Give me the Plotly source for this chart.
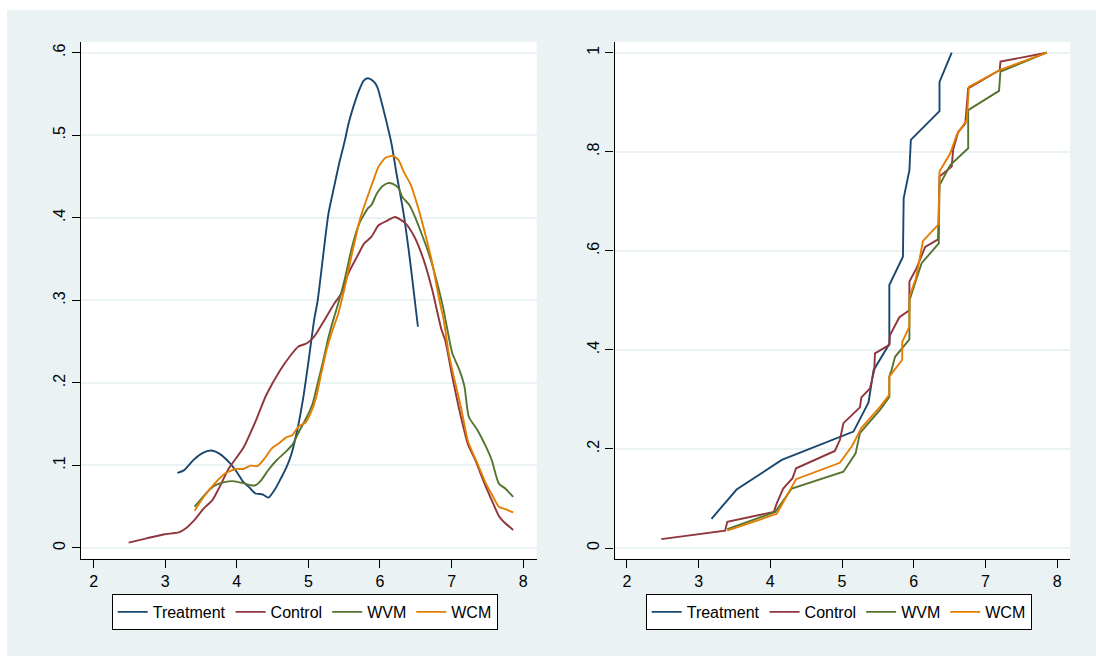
import plotly.graph_objects as go

# ---------------- data: kernel densities (left panel) ----------------
treat_den_x = [3.17, 3.26, 3.40, 3.52, 3.64, 3.76, 3.89, 4.00, 4.09, 4.18, 4.26, 4.36, 4.44, 4.54, 4.62,
               4.69, 4.76, 4.85, 4.93, 5.00, 5.08, 5.13, 5.21, 5.28, 5.36, 5.43, 5.51, 5.56, 5.63, 5.71,
               5.77, 5.83, 5.90, 5.96, 6.06, 6.16, 6.23, 6.33, 6.43, 6.53]
treat_den_y = [0.091, 0.094, 0.107, 0.115, 0.118, 0.114, 0.104, 0.092, 0.080, 0.073, 0.066, 0.065, 0.061, 0.072, 0.085,
               0.097, 0.113, 0.145, 0.183, 0.225, 0.276, 0.300, 0.357, 0.405, 0.438, 0.466, 0.494, 0.514, 0.535, 0.555,
               0.566, 0.569, 0.566, 0.559, 0.527, 0.490, 0.454, 0.405, 0.341, 0.268]

ctrl_den_x = [2.49, 2.74, 2.99, 3.19, 3.29, 3.41, 3.54, 3.66, 3.76, 3.89, 4.09, 4.26, 4.41, 4.61, 4.74,
              4.86, 4.98, 5.08, 5.21, 5.36, 5.46, 5.56, 5.68, 5.78, 5.88, 5.98, 6.11, 6.21, 6.36, 6.48,
              6.61, 6.73, 6.86, 6.91, 7.01, 7.13, 7.23, 7.33, 7.46, 7.56, 7.66, 7.75, 7.86]
ctrl_den_y = [0.0065, 0.0117, 0.0166, 0.019, 0.024, 0.034, 0.048, 0.058, 0.074, 0.0965, 0.121, 0.153, 0.185, 0.216, 0.232,
              0.244, 0.248, 0.256, 0.274, 0.296, 0.3085, 0.333, 0.353, 0.369, 0.377, 0.391, 0.397, 0.401, 0.393, 0.377,
              0.349, 0.3125, 0.264, 0.252, 0.2075, 0.159, 0.125, 0.1066, 0.078, 0.058, 0.0388, 0.030, 0.0218]

wvm_den_x = [3.41, 3.59, 3.69, 3.84, 3.94, 4.09, 4.19, 4.26, 4.34, 4.44, 4.56, 4.69, 4.78, 4.88, 4.98,
             5.06, 5.13, 5.21, 5.28, 5.36, 5.43, 5.51, 5.61, 5.71, 5.83, 5.88, 5.96, 6.03, 6.11, 6.18,
             6.26, 6.31, 6.41, 6.48, 6.58, 6.68, 6.75, 6.88, 6.92, 7.01, 7.11, 7.18, 7.24, 7.36, 7.48,
             7.56, 7.66, 7.75, 7.86]
wvm_den_y = [0.050, 0.068, 0.0755, 0.080, 0.081, 0.0785, 0.076, 0.076, 0.082, 0.0945, 0.1066, 0.117, 0.1255, 0.143, 0.159,
             0.175, 0.1995, 0.228, 0.255, 0.280, 0.300, 0.3265, 0.365, 0.393, 0.4115, 0.4155, 0.430, 0.438, 0.442, 0.441,
             0.436, 0.4255, 0.4155, 0.403, 0.381, 0.357, 0.337, 0.292, 0.274, 0.236, 0.2155, 0.1955, 0.159, 0.143, 0.1227,
             0.1066, 0.078, 0.072, 0.062]

wcm_den_x = [3.41, 3.54, 3.69, 3.84, 3.99, 4.09, 4.19, 4.29, 4.39, 4.49, 4.59, 4.69, 4.78, 4.86, 4.96,
             5.03, 5.11, 5.18, 5.26, 5.33, 5.41, 5.51, 5.61, 5.73, 5.86, 5.91, 5.98, 6.08, 6.18, 6.26,
             6.33, 6.43, 6.53, 6.63, 6.73, 6.83, 6.89, 6.96, 7.03, 7.13, 7.23, 7.36, 7.48, 7.58, 7.66,
             7.75, 7.86]
wcm_den_y = [0.045, 0.062, 0.078, 0.0905, 0.0957, 0.0957, 0.0997, 0.0993, 0.1087, 0.1207, 0.127, 0.134, 0.137, 0.147, 0.152,
             0.163, 0.183, 0.2115, 0.242, 0.262, 0.282, 0.3165, 0.357, 0.401, 0.434, 0.446, 0.462, 0.473, 0.475, 0.470,
             0.456, 0.440, 0.413, 0.381, 0.345, 0.300, 0.276, 0.236, 0.2075, 0.171, 0.129, 0.1026, 0.078, 0.062, 0.050,
             0.047, 0.043]

# ---------------- data: cumulative distributions (right panel) ----------------
treat_cdf_x = [3.18, 3.53, 4.16, 5.16, 5.37, 5.44, 5.66, 5.66, 5.85, 5.86, 5.94, 5.96, 6.36, 6.36, 6.53]
treat_cdf_y = [0.059, 0.118, 0.178, 0.235, 0.294, 0.359, 0.412, 0.531, 0.588, 0.706, 0.763, 0.824, 0.882, 0.941, 1.0]

ctrl_cdf_x = [2.48, 3.37, 3.40, 4.05, 4.09, 4.18, 4.31, 4.36, 4.90, 4.97, 5.02, 5.25, 5.27, 5.39, 5.45,
              5.46, 5.66, 5.67, 5.80, 5.94, 5.94, 6.04, 6.16, 6.34, 6.36, 6.53, 6.55, 6.62, 6.72, 6.76,
              7.20, 7.21, 7.855]
ctrl_cdf_y = [0.018, 0.035, 0.053, 0.073, 0.090, 0.120, 0.141, 0.161, 0.196, 0.218, 0.252, 0.284, 0.304, 0.322, 0.359,
              0.393, 0.410, 0.430, 0.466, 0.480, 0.538, 0.565, 0.608, 0.623, 0.750, 0.770, 0.804, 0.840, 0.857, 0.928,
              0.965, 0.982, 1.0]

wvm_cdf_x = [3.40, 4.07, 4.30, 5.02, 5.19, 5.25, 5.53, 5.66, 5.66, 5.69, 5.74, 5.94, 5.94, 6.11, 6.35,
             6.36, 6.51, 6.76, 6.76, 7.19, 7.21, 7.855]
wvm_cdf_y = [0.038, 0.073, 0.120, 0.154, 0.191, 0.232, 0.279, 0.305, 0.346, 0.359, 0.386, 0.421, 0.500, 0.575, 0.615,
             0.733, 0.773, 0.807, 0.884, 0.923, 0.962, 1.0]

wcm_cdf_x = [3.40, 4.09, 4.36, 4.97, 5.14, 5.27, 5.53, 5.66, 5.66, 5.84, 5.84, 5.94, 5.94, 6.03, 6.13,
             6.35, 6.36, 6.51, 6.60, 6.74, 6.77, 7.20, 7.855]
wcm_cdf_y = [0.035, 0.069, 0.139, 0.172, 0.206, 0.242, 0.285, 0.309, 0.346, 0.380, 0.416, 0.447, 0.507, 0.544, 0.620,
             0.654, 0.760, 0.797, 0.834, 0.864, 0.931, 0.965, 1.0]

series_names = ["Treatment", "Control", "WVM", "WCM"]
series_colors = ["#1a476f", "#90353b", "#55752f", "#e37e00"]

x_ticks = [2, 3, 4, 5, 6, 7, 8]
x_ticktext = ["2", "3", "4", "5", "6", "7", "8"]
left_y_ticks = [0, 0.1, 0.2, 0.3, 0.4, 0.5, 0.6]
left_y_ticktext = ["0", ".1", ".2", ".3", ".4", ".5", ".6"]
right_y_ticks = [0, 0.2, 0.4, 0.6, 0.8, 1.0]
right_y_ticktext = ["0", ".2", ".4", ".6", ".8", "1"]

# ---------------- figure ----------------
W, H = 1096, 656
BG = "#EAF2F3"
FONT = "Liberation Sans, Arial, Helvetica, sans-serif"

den_sets = [(treat_den_x, treat_den_y), (ctrl_den_x, ctrl_den_y), (wvm_den_x, wvm_den_y), (wcm_den_x, wcm_den_y)]
cdf_sets = [(treat_cdf_x, treat_cdf_y), (ctrl_cdf_x, ctrl_cdf_y), (wvm_cdf_x, wvm_cdf_y), (wcm_cdf_x, wcm_cdf_y)]

fig = go.Figure()
for (xs, ys), name, col in zip(den_sets, series_names, series_colors):
    fig.add_trace(go.Scatter(x=xs, y=ys, mode="lines", name=name,
                             line=dict(color=col, width=1.9, shape="spline", smoothing=0.6),
                             xaxis="x", yaxis="y", legend="legend"))
for (xs, ys), name, col in zip(cdf_sets, series_names, series_colors):
    fig.add_trace(go.Scatter(x=xs, y=ys, mode="lines", name=name,
                             line=dict(color=col, width=1.9),
                             xaxis="x2", yaxis="y2", legend="legend2"))


def px_x(p):
    return p / W


def px_y(p):
    return 1 - p / H


common_x = dict(showline=True, linecolor="black", linewidth=1.3, ticks="outside", ticklen=8,
                tickwidth=1, tickcolor="black", showgrid=False, zeroline=False,
                tickvals=x_ticks, ticktext=x_ticktext, tickfont=dict(size=16, color="black"),
                automargin=False, fixedrange=True)
common_y = dict(showline=True, linecolor="black", linewidth=1.3, ticks="outside", ticklen=8,
                tickwidth=1, tickcolor="black", showgrid=True, gridcolor=BG, gridwidth=2,
                zeroline=False, tickangle=-90, tickfont=dict(size=16, color="black"),
                automargin=False, fixedrange=True)

ydom = [px_y(558.7), px_y(42)]

fig.update_layout(
    width=W, height=H,
    template="none",
    margin=dict(l=0, r=0, t=0, b=0, pad=0),
    paper_bgcolor=BG,
    plot_bgcolor="white",
    font=dict(family=FONT, size=16, color="black"),
    xaxis=dict(domain=[px_x(80.7), px_x(536.8)], range=[1.82, 8.19], anchor="y", **common_x),
    yaxis=dict(domain=ydom, range=[-0.013, 0.613], anchor="x",
               tickvals=left_y_ticks, ticktext=left_y_ticktext, **common_y),
    xaxis2=dict(domain=[px_x(614.5), px_x(1070)], range=[1.827, 8.18], anchor="y2", **common_x),
    yaxis2=dict(domain=ydom, range=[-0.0216, 1.0216], anchor="x2",
                tickvals=right_y_ticks, ticktext=right_y_ticktext, **common_y),
    legend=dict(orientation="h", x=px_x(111.7), y=px_y(594), xanchor="left", yanchor="top",
                bgcolor="white", bordercolor="black", borderwidth=1,
                font=dict(size=16, color="black"), itemwidth=30),
    legend2=dict(orientation="h", x=px_x(645.7), y=px_y(594), xanchor="left", yanchor="top",
                 bgcolor="white", bordercolor="black", borderwidth=1,
                 font=dict(size=16, color="black"), itemwidth=30),
    shapes=[
        dict(type="rect", xref="paper", yref="paper", x0=0, x1=px_x(7), y0=0, y1=1,
             fillcolor="white", line=dict(width=0), layer="below"),
        dict(type="rect", xref="paper", yref="paper", x0=0, x1=1, y0=px_y(10), y1=1,
             fillcolor="white", line=dict(width=0), layer="below"),
    ],
    showlegend=True,
)

fig.write_html("out.html")
